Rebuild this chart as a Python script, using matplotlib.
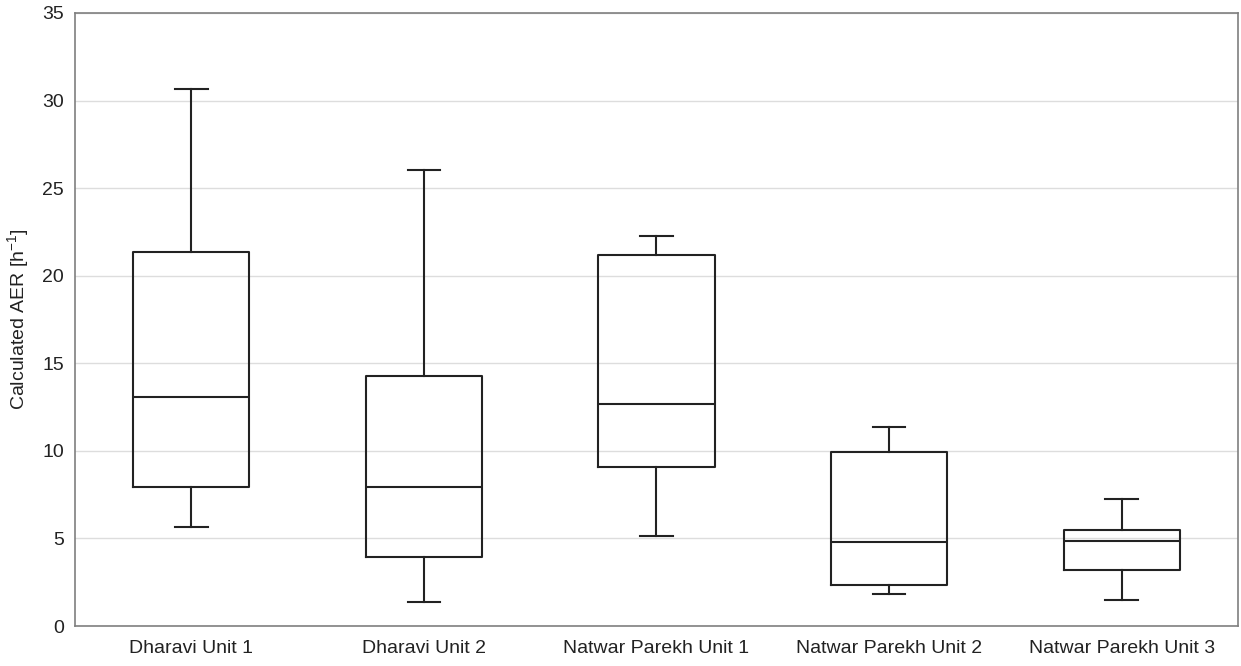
import numpy as np
import matplotlib
matplotlib.use("Agg")
import matplotlib.pyplot as plt

plt.rcParams['font.family'] = ['Liberation Sans', 'DejaVu Sans']
plt.rcParams['mathtext.default'] = 'regular'

# box statistics (AER in 1/h)
units = ['Dharavi Unit 1', 'Dharavi Unit 2', 'Natwar Parekh Unit 1',
         'Natwar Parekh Unit 2', 'Natwar Parekh Unit 3']
whis_low = [5.63, 1.39, 5.15, 1.85, 1.46]
q1 = [7.93, 3.92, 9.09, 2.37, 3.18]
median = [13.05, 7.91, 12.70, 4.77, 4.87]
q3 = [21.37, 14.25, 21.16, 9.93, 5.49]
whis_high = [30.65, 26.01, 22.26, 11.39, 7.28]

stats = []
for i in range(len(units)):
    stats.append({'label': units[i], 'whislo': whis_low[i], 'q1': q1[i],
                  'med': median[i], 'q3': q3[i], 'whishi': whis_high[i]})

fig = plt.figure(figsize=(12.41, 6.66), dpi=100)
ax = fig.add_axes([0.0604, 0.060, 0.9372, 0.9205])

line = dict(color='#222222', linewidth=1.5)
ax.bxp(stats, positions=range(len(units)), widths=0.5, capwidths=0.14,
       showfliers=False, boxprops=line, whiskerprops=line, capprops=line,
       medianprops=line)

ax.set_xlim(-0.5, len(units) - 0.5)
ax.set_ylim(0, 35)
ax.set_yticks(np.arange(0, 36, 5))
ax.set_xticks(range(len(units)))
ax.set_xticklabels(units)
ax.tick_params(length=0, labelsize=14, colors='#222222')
ax.tick_params(axis='x', pad=10)
ax.tick_params(axis='y', pad=8)
ax.yaxis.grid(True, color='#dddddd', linewidth=1)
ax.set_axisbelow(True)
for s in ax.spines.values():
    s.set_color('#7f7f7f')
    s.set_linewidth(1.2)
ax.set_ylabel('Calculated AER [h$^{-1}$]', fontsize=14, color='#222222', labelpad=8)

fig.savefig('out.png', dpi=100)
